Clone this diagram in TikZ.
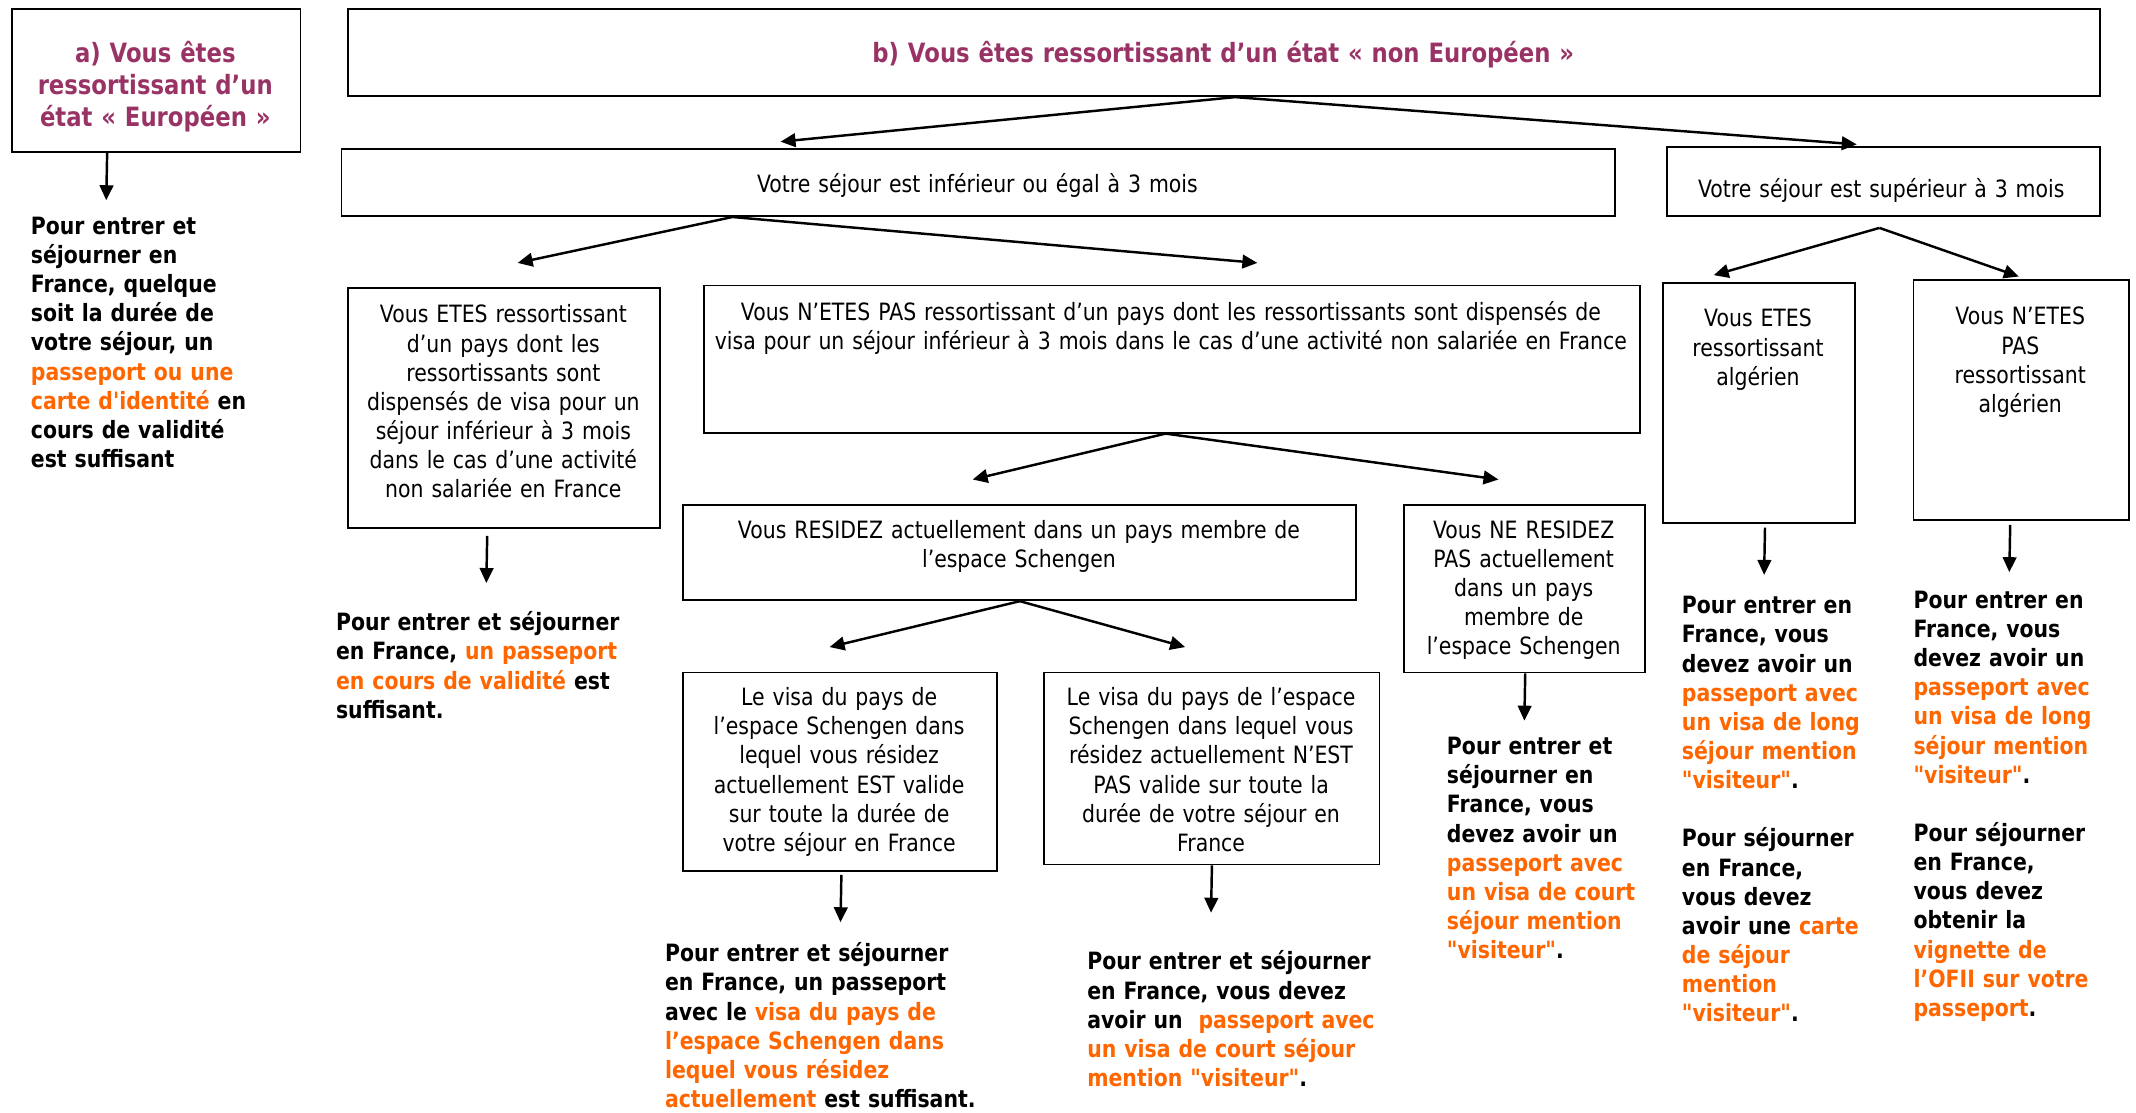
\documentclass[tikz,border=0pt]{standalone}
\usepackage{fontspec}
\newfontfamily\df{DejaVu Sans}[FakeStretch=0.857]
\usetikzlibrary{arrows.meta,calc}
\definecolor{plum}{HTML}{993366}
\definecolor{orng}{HTML}{FF6600}
\newcommand{\og}[1]{{\color{orng}#1}}
\begin{document}
\begin{tikzpicture}[x=1pt,y=-1pt,
  box/.style={draw,line width=1.3pt,inner sep=0pt,anchor=north west},
  arr/.style={line width=1.8pt,-{Triangle[width=10pt,length=11pt]}},
  ctext/.style={inner sep=0pt,text width=700pt,align=center,font=\df\fontsize{17.5}{21.4}\selectfont,anchor=base},
  ltext/.style={inner sep=0pt,text width=300pt,align=left,font=\df\bfseries\fontsize{17.5}{21.4}\selectfont,anchor=base west},
  ttext/.style={inner sep=0pt,text width=700pt,align=center,font=\df\bfseries\fontsize{19.5}{23.6}\selectfont,anchor=base,text=plum},
]
\useasboundingbox (0,0) rectangle (1568,816.3);

% boxes
\node[box,minimum width=212pt,minimum height=105pt] (A) at (8,6) {};
\node[box,minimum width=1286pt,minimum height=64pt] (B) at (255,6) {};
\node[box,minimum width=935pt,minimum height=49pt] (C1) at (250,109) {};
\node[box,minimum width=318pt,minimum height=51pt] (C2) at (1223,107) {};
\node[box,minimum width=229pt,minimum height=176pt] (D1) at (255,211) {};
\node[box,minimum width=687pt,minimum height=108pt] (D2) at (516,209) {};
\node[box,minimum width=494pt,minimum height=70pt] (E1) at (501,370) {};
\node[box,minimum width=177pt,minimum height=123pt] (E2) at (1030,370) {};
\node[box,minimum width=230pt,minimum height=146pt] (F1) at (501,493) {};
\node[box,minimum width=246pt,minimum height=141pt] (F2) at (766,493) {};
\node[box,minimum width=141pt,minimum height=176pt] (G1) at (1220,207) {};
\node[box,minimum width=158pt,minimum height=176pt] (G2) at (1404,205) {};

% box texts
\node[ttext] (tA) at (114,46) {a) Vous êtes\\ressortissant d’un\\état « Européen »};
\node[ttext] (tB) at (898,46) {b) Vous êtes ressortissant d’un état « non Européen »};
\node[ctext] (tC1) at (717.5,141) {Votre séjour est inférieur ou égal à 3 mois};
\node[ctext] (tC2) at (1381,145) {Votre séjour est supérieur à 3 mois};
\node[ctext] (tD1) at (369.5,237) {Vous ETES ressortissant\\d’un pays dont les\\ressortissants sont\\dispensés de visa pour un\\séjour inférieur à 3 mois\\dans le cas d’une activité\\non salariée en France};
\node[ctext] (tD2) at (859.5,235) {Vous N’ETES PAS ressortissant d’un pays dont les ressortissants sont dispensés de\\visa pour un séjour inférieur à 3 mois dans le cas d’une activité non salariée en France};
\node[ctext] (tE1) at (748,395) {Vous RESIDEZ actuellement dans un pays membre de\\l’espace Schengen};
\node[ctext] (tE2) at (1118.5,395) {Vous NE RESIDEZ\\PAS actuellement\\dans un pays\\membre de\\l’espace Schengen};
\node[ctext] (tF1) at (616,518) {Le visa du pays de\\l’espace Schengen dans\\lequel vous résidez\\actuellement EST valide\\sur toute la durée de\\votre séjour en France};
\node[ctext] (tF2) at (889,518) {Le visa du pays de l’espace\\Schengen dans lequel vous\\résidez actuellement N’EST\\PAS valide sur toute la\\durée de votre séjour en\\France};
\node[ctext] (tG1) at (1290.5,240) {Vous ETES\\ressortissant\\algérien};
\node[ctext] (tG2) at (1483,238.5) {Vous N’ETES\\PAS\\ressortissant\\algérien};

% result texts
\node[ltext] (rA) at (22.5,172) {Pour entrer et\\séjourner en\\France, quelque\\soit la durée de\\votre séjour, un\\\og{passeport ou une}\\\og{carte d'identité} en\\cours de validité\\est suffisant};
\node[ltext] (rD1) at (246.5,463) {Pour entrer et séjourner\\en France, \og{un passeport}\\\og{en cours de validité} est\\suffisant.};
\node[ltext] (rF1) at (488,706) {Pour entrer et séjourner\\en France, un passeport\\avec le \og{visa du pays de}\\\og{l’espace Schengen dans}\\\og{lequel vous résidez}\\\og{actuellement} est suffisant.};
\node[ltext] (rF2) at (798,712) {Pour entrer et séjourner\\en France, vous devez\\avoir un\ \ \og{passeport avec}\\\og{un visa de court séjour}\\\og{mention "visiteur"}.};
\node[ltext] (rE2) at (1062,554) {Pour entrer et\\séjourner en\\France, vous\\devez avoir un\\\og{passeport avec}\\\og{un visa de court}\\\og{séjour mention}\\\og{"visiteur"}.};
\node[ltext] (rG1) at (1234.5,450.5) {Pour entrer en\\France, vous\\devez avoir un\\\og{passeport avec}\\\og{un visa de long}\\\og{séjour mention}\\\og{"visiteur"}.\\[21.4pt]Pour séjourner\\en France,\\vous devez\\avoir une \og{carte}\\\og{de séjour}\\\og{mention}\\\og{"visiteur"}.};
\node[ltext] (rG2) at (1404.5,446.5) {Pour entrer en\\France, vous\\devez avoir un\\\og{passeport avec}\\\og{un visa de long}\\\og{séjour mention}\\\og{"visiteur"}.\\[21.4pt]Pour séjourner\\en France,\\vous devez\\obtenir la\\\og{vignette de}\\\og{l’OFII sur votre}\\\og{passeport}.};

% arrow tips
\coordinate (ta) at (78,147);
\coordinate (tb1) at (573,104);
\coordinate (tb2) at (1363,106);
\coordinate (tc1) at (380,193);
\coordinate (tc2) at (923,193);
\coordinate (tc3) at (1258,202);
\coordinate (tc4) at (1482,203);
\coordinate (td1) at (357,428);
\coordinate (td2) at (714,352);
\coordinate (td3) at (1100,352);
\coordinate (te1) at (609,475);
\coordinate (te2) at (870,475);
\coordinate (tf1) at (617,677);
\coordinate (tf2) at (889,670);
\coordinate (te3) at (1119,529);
\coordinate (tg1) at (1295,422);
\coordinate (tg2) at (1475,420);

% connectors
\draw[arr] ([xshift=-36pt]A.south) -- (ta);
\draw[arr] ([xshift=8pt]B.south) -- (tb1);
\draw[arr] ([xshift=8pt]B.south) -- (tb2);
\draw[arr] ([xshift=-180.5pt]C1.south) -- (tc1);
\draw[arr] ([xshift=-180.5pt]C1.south) -- (tc2);
\draw[arr] ([xshift=-3pt,yshift=-8pt]C2.south) -- (tc3);
\draw[arr] ([xshift=-3pt,yshift=-8pt]C2.south) -- (tc4);
\draw[arr] ([xshift=-12.5pt,yshift=-5pt]D1.south) -- (td1);
\draw[arr] ([xshift=-4.5pt]D2.south) -- (td2);
\draw[arr] ([xshift=-4.5pt]D2.south) -- (td3);
\draw[arr] (E1.south) -- (te1);
\draw[arr] (E1.south) -- (te2);
\draw[arr] ([xshift=1pt,yshift=-2pt]F1.south) -- (tf1);
\draw[arr] (F2.south) -- (tf2);
\draw[arr] ([xshift=0.5pt]E2.south) -- (te3);
\draw[arr] ([xshift=4.5pt,yshift=-3pt]G1.south) -- (tg1);
\draw[arr] ([xshift=-8pt,yshift=-3pt]G2.south) -- (tg2);
\end{tikzpicture}
\end{document}
